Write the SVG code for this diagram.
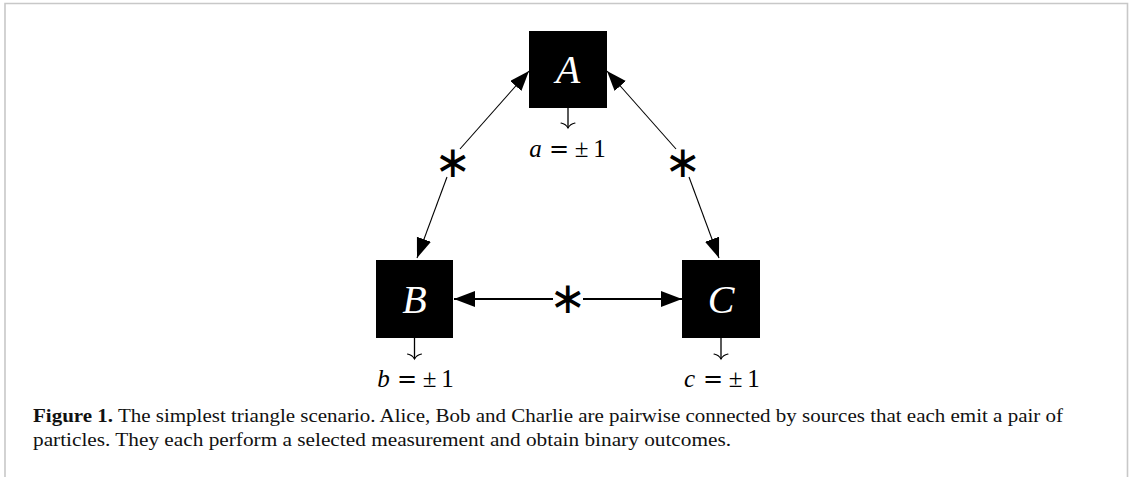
<svg xmlns="http://www.w3.org/2000/svg" width="1130" height="477" viewBox="0 0 1130 477">
  <style>
    .frame { stroke: #c8c8c8; stroke-width: 1.6; fill: none; }
    .box { fill: #000; }
    .party { fill: #fff; font-family: "Liberation Serif", serif; font-style: italic; font-size: 40px; text-anchor: middle; }
    .out { stroke: #000; stroke-width: 1.3; fill: none; }
    .outhead { stroke: #000; stroke-width: 1.1; fill: none; stroke-linecap: round; }
    .val { fill: #000; font-family: "Liberation Serif", serif; font-size: 25px; text-anchor: middle; }
    .val .v { font-style: italic; }
    .val .rel { font-family: "DejaVu Serif", serif; font-size: 24px; }
    .link { stroke: #000; stroke-width: 1.1; fill: none; }
    .link.thick { stroke-width: 1.8; }
    .src { fill: #000; font-family: "DejaVu Sans", sans-serif; font-size: 44px; text-anchor: middle; dominant-baseline: central; }
    .cap { fill: #111; font-family: "Liberation Serif", serif; font-size: 19px; }
    .cap .b { font-weight: bold; }
  </style>
  <defs>
    <marker id="tri" markerUnits="userSpaceOnUse" markerWidth="22" markerHeight="16" refX="20" refY="7.5" orient="auto">
      <path d="M0,0 L20,7.5 L0,15 Z" fill="#000"/>
    </marker>
    <marker id="triBig" markerUnits="userSpaceOnUse" markerWidth="23" markerHeight="17" refX="21" refY="8" orient="auto">
      <path d="M0,0 L21,8 L0,16 Z" fill="#000"/>
    </marker>
  </defs>

  <rect width="1130" height="477" fill="#fff"/>

  <!-- figure frame -->
  <g id="frame">
    <path class="frame" d="M5,477 V3.5 H1127.5 V477"/>
  </g>

  <!-- sources and the links between the parties -->
  <g id="connectors">
    <line class="link" x1="460" y1="149" x2="529" y2="71" marker-end="url(#tri)"/>
    <line class="link" x1="447" y1="177" x2="417" y2="258" marker-end="url(#tri)"/>
    <line class="link" x1="676" y1="149" x2="607" y2="71" marker-end="url(#tri)"/>
    <line class="link" x1="689" y1="177" x2="719" y2="258" marker-end="url(#tri)"/>
    <line class="link thick" x1="553" y1="299" x2="454" y2="299" marker-end="url(#triBig)"/>
    <line class="link thick" x1="583" y1="299" x2="682" y2="299" marker-end="url(#triBig)"/>
  </g>

  <g id="source-ab"><text class="src" x="453" y="161">∗</text></g>
  <g id="source-ac"><text class="src" x="683" y="161">∗</text></g>
  <g id="source-bc"><text class="src" x="568" y="297">∗</text></g>

  <!-- party A -->
  <g id="node-a">
    <rect class="box" x="529" y="31" width="78" height="77"/>
    <text class="party" x="568" y="83">A</text>
    <line class="out" x1="568" y1="108" x2="568" y2="128"/>
    <path class="outhead" d="M561,123 Q566,124 568,128 Q570,124 575,123"/>
    <text class="val" y="157"><tspan class="v" x="535.5">a</tspan><tspan class="rel" x="559">=</tspan><tspan x="581.5">±</tspan><tspan x="599.5">1</tspan></text>
  </g>

  <!-- party B -->
  <g id="node-b">
    <rect class="box" x="376" y="260" width="77" height="78"/>
    <text class="party" x="414.5" y="313">B</text>
    <line class="out" x1="414.5" y1="338" x2="414.5" y2="359"/>
    <path class="outhead" d="M407.5,354 Q412.5,355 414.5,359 Q416.5,355 421.5,354"/>
    <text class="val" y="387"><tspan class="v" x="383.5">b</tspan><tspan class="rel" x="407">=</tspan><tspan x="429.5">±</tspan><tspan x="447.5">1</tspan></text>
  </g>

  <!-- party C -->
  <g id="node-c">
    <rect class="box" x="682" y="260" width="78" height="78"/>
    <text class="party" x="721" y="313">C</text>
    <line class="out" x1="721" y1="338" x2="721" y2="359"/>
    <path class="outhead" d="M714,354 Q719,355 721,359 Q723,355 728,354"/>
    <text class="val" y="387"><tspan class="v" x="689.5">c</tspan><tspan class="rel" x="713">=</tspan><tspan x="735.5">±</tspan><tspan x="753.5">1</tspan></text>
  </g>

  <!-- caption -->
  <g id="caption">
    <text class="cap" x="33" y="422" textLength="1030" lengthAdjust="spacingAndGlyphs"><tspan class="b">Figure 1.</tspan> The simplest triangle scenario. Alice, Bob and Charlie are pairwise connected by sources that each emit a pair of</text>
    <text class="cap" x="33" y="446" textLength="698" lengthAdjust="spacingAndGlyphs">particles. They each perform a selected measurement and obtain binary outcomes.</text>
  </g>
</svg>
